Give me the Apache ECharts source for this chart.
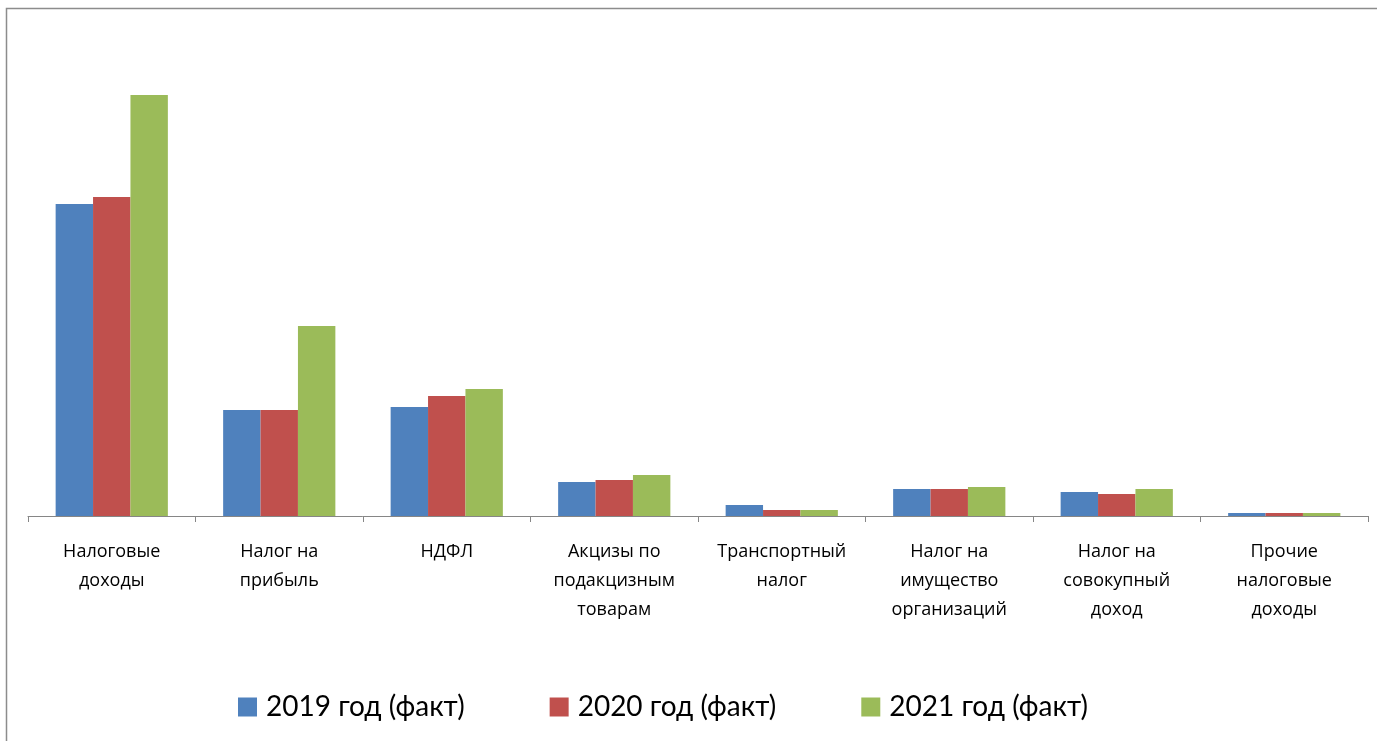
<!DOCTYPE html>
<html><head><meta charset="utf-8">
<script src="https://cdn.jsdelivr.net/npm/echarts@6/dist/echarts.min.js"></script>
<style>html,body{margin:0;padding:0;background:#fff}#c{width:1377px;height:741px}</style>
</head><body><div id="c"></div>
<script>
const categories = ["Налоговые\nдоходы","Налог на\nприбыль","НДФЛ","Акцизы по\nподакцизным\nтоварам","Транспортный\nналог","Налог на\nимущество\nорганизаций","Налог на\nсовокупный\nдоход","Прочие\nналоговые\nдоходы"];
const seriesNames = ["2019 год (факт)","2020 год (факт)","2021 год (факт)"];
const v2019 = [312,106,109,34,11,27,24,3];
const v2020 = [319,106,120,36,6,27,22,3];
const v2021 = [421,190,127,41,6,29,27,3];
const colors = ["#4F81BD","#C0504D","#9BBB59"];
const chart = echarts.init(document.getElementById('c'));
const font = "Lato, 'Open Sans', sans-serif";
chart.setOption({
  animation:false,
  graphic:[{type:'rect',shape:{x:6.5,y:8.5,width:1400,height:800},style:{fill:'none',stroke:'#8c8c8c',lineWidth:1.5},silent:true}],
  legend:{top:688,left:233,itemWidth:19,itemHeight:19,itemGap:85,icon:'rect',
    textStyle:{fontFamily:font,fontSize:28,color:'#000',padding:[0,0,0,4]},data:seriesNames},
  grid:{left:28,right:9,top:16,height:500,containLabel:false},
  xAxis:{type:'category',data:categories,
    axisLine:{lineStyle:{color:'#868686',width:1}},
    axisTick:{show:true,length:6,alignWithLabel:false,lineStyle:{color:'#868686'}},
    axisLabel:{fontFamily:"'Open Sans', sans-serif",fontSize:18,color:'#000',lineHeight:29,margin:21,interval:0}},
  yAxis:{type:'value',min:0,max:500,show:false,splitLine:{show:false}},
  series:[
    {name:seriesNames[0],type:'bar',data:v2019,itemStyle:{color:colors[0]},barGap:'0%',barCategoryGap:'33%'},
    {name:seriesNames[1],type:'bar',data:v2020,itemStyle:{color:colors[1]},barGap:'0%',barCategoryGap:'33%'},
    {name:seriesNames[2],type:'bar',data:v2021,itemStyle:{color:colors[2]},barGap:'0%',barCategoryGap:'33%'}
  ]
});
</script></body></html>
